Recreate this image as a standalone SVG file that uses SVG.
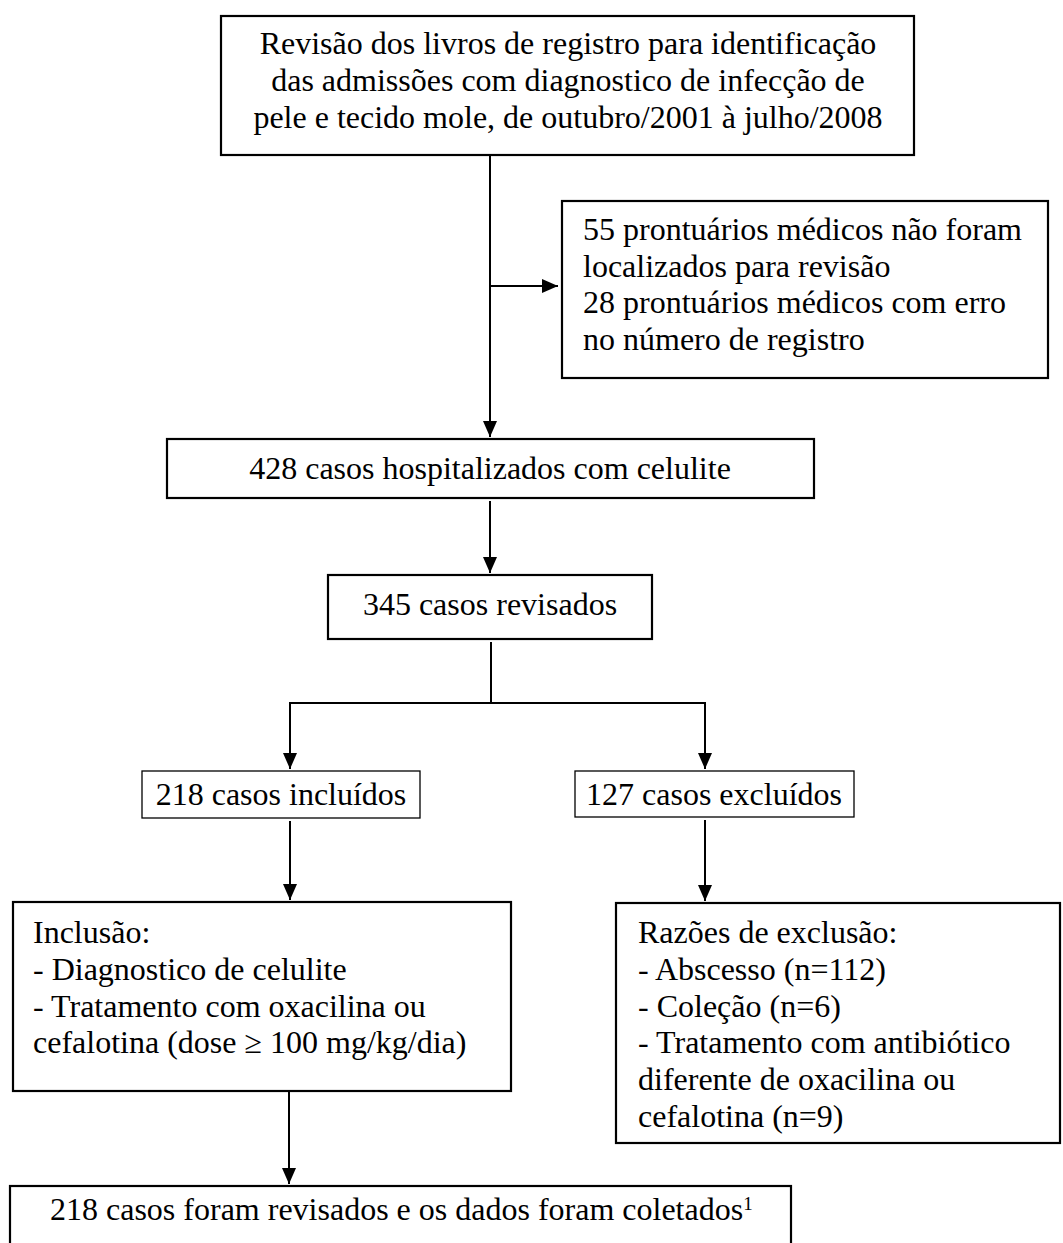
<svg xmlns="http://www.w3.org/2000/svg" width="1063" height="1243" viewBox="0 0 1063 1243">
<defs>
<style>
text{font-family:"Liberation Serif","Times New Roman",serif;font-size:32px;fill:#000}
.box{fill:#fff;stroke:#000;stroke-width:2.2}
.thin{fill:#fff;stroke:#000;stroke-width:1.3}
.c{text-anchor:middle}
.ln{fill:none;stroke:#000;stroke-width:2}
</style>
<marker id="ah" viewBox="0 0 16 14" refX="16" refY="7" markerWidth="16" markerHeight="14" markerUnits="userSpaceOnUse" orient="auto">
<path d="M0,0 L16,7 L0,14 Z" fill="#000"/>
</marker>
</defs>
<rect width="1063" height="1243" fill="#fff"/>
<g id="connectors">
<path class="ln" d="M490,156 V437" marker-end="url(#ah)"/>
<path class="ln" d="M490,286 H558" marker-end="url(#ah)"/>
<path class="ln" d="M490,501 V573" marker-end="url(#ah)"/>
<path class="ln" d="M491,642 V703"/>
<path class="ln" d="M289,703 H706"/>
<path class="ln" d="M290,703 V769" marker-end="url(#ah)"/>
<path class="ln" d="M705,703 V769" marker-end="url(#ah)"/>
<path class="ln" d="M290,821 V900" marker-end="url(#ah)"/>
<path class="ln" d="M705,820 V901" marker-end="url(#ah)"/>
<path class="ln" d="M289,1092 V1184" marker-end="url(#ah)"/>
</g>
<g id="node-registro">
<rect class="box" x="221" y="16" width="693" height="139"/>
<text class="c" x="568" y="54">Revisão dos livros de registro para identificação</text>
<text class="c" x="568" y="91">das admissões com diagnostico de infecção de</text>
<text class="c" x="568" y="128">pele e tecido mole, de outubro/2001 à julho/2008</text>
</g>
<g id="node-prontuarios">
<rect class="box" x="562" y="201" width="486" height="177"/>
<text x="583" y="240">55 prontuários médicos não foram</text>
<text x="583" y="277">localizados para revisão</text>
<text x="583" y="313">28 prontuários médicos com erro</text>
<text x="583" y="350">no número de registro</text>
</g>
<g id="node-428">
<rect class="box" x="167" y="439" width="647" height="59"/>
<text class="c" x="490" y="479">428 casos hospitalizados com celulite</text>
</g>
<g id="node-345">
<rect class="box" x="328" y="575" width="324" height="64"/>
<text class="c" x="490" y="615">345 casos revisados</text>
</g>
<g id="node-incluidos">
<rect class="thin" x="142" y="771" width="278" height="47"/>
<text class="c" x="281" y="805">218 casos incluídos</text>
</g>
<g id="node-excluidos">
<rect class="thin" x="575" y="771" width="279" height="46"/>
<text class="c" x="714" y="805">127 casos excluídos</text>
</g>
<g id="node-inclusao">
<rect class="box" x="13" y="902" width="498" height="189"/>
<text x="33" y="943">Inclusão:</text>
<text x="33" y="980">- Diagnostico de celulite</text>
<text x="33" y="1017">- Tratamento com oxacilina ou</text>
<text x="33" y="1053">cefalotina (dose ≥ 100 mg/kg/dia)</text>
</g>
<g id="node-exclusao">
<rect class="box" x="616" y="903" width="444" height="240"/>
<text x="638" y="943">Razões de exclusão:</text>
<text x="638" y="980">- Abscesso (n=112)</text>
<text x="638" y="1017">- Coleção (n=6)</text>
<text x="638" y="1053">- Tratamento com antibiótico</text>
<text x="638" y="1090">diferente de oxacilina ou</text>
<text x="638" y="1127">cefalotina (n=9)</text>
</g>
<g id="node-coletados">
<rect class="box" x="10" y="1186" width="781" height="80"/>
<text x="50" y="1220">218 casos foram revisados e os dados foram coletados<tspan font-size="19" dy="-10">1</tspan></text>
</g>
</svg>
